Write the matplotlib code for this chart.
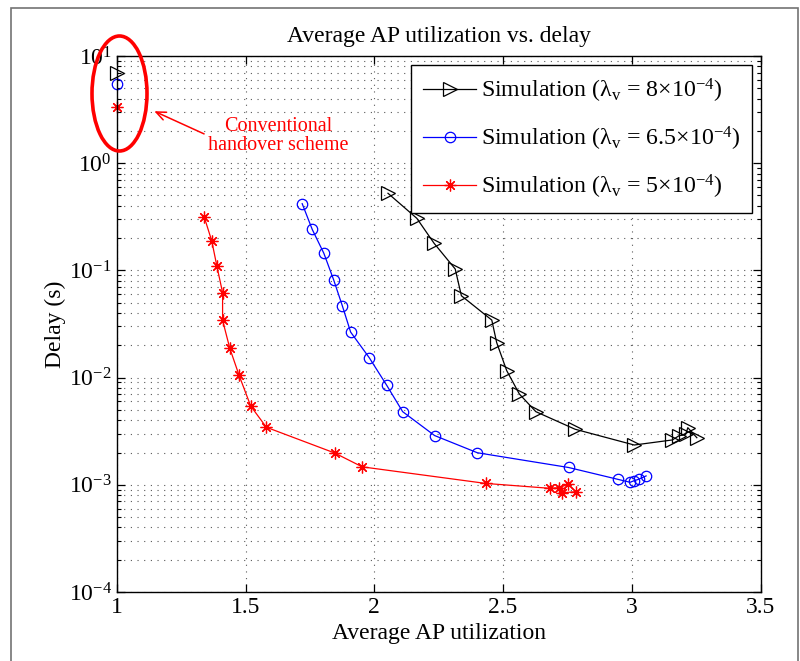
import matplotlib
matplotlib.use("Agg")
import matplotlib.pyplot as plt
from matplotlib.patches import Ellipse, Rectangle

# fonts: Times-like, as in the MATLAB original
plt.rcParams['font.family'] = ['Liberation Serif', 'DejaVu Serif']
plt.rcParams['mathtext.fontset'] = 'custom'
plt.rcParams['mathtext.rm'] = 'Liberation Serif'
plt.rcParams['mathtext.it'] = 'Liberation Serif:italic'
plt.rcParams['mathtext.bf'] = 'Liberation Serif:bold'

# data
util_8 = [2.053, 2.165, 2.232, 2.314, 2.338, 2.456, 2.475, 2.514, 2.563, 2.627,
          2.779, 3.009, 3.157, 3.183, 3.209, 3.217, 3.252]
delay_8 = [0.524, 0.306, 0.179, 0.103, 0.058, 0.0344, 0.0212, 0.0116, 0.00703, 0.00481,
           0.0033, 0.00235, 0.00262, 0.00287, 0.00296, 0.00341, 0.00275]

util_65 = [1.72, 1.759, 1.804, 1.842, 1.876, 1.908, 1.981, 2.048, 2.110, 2.234,
           2.400, 2.754, 2.945, 2.993, 3.008, 3.026, 3.055]
delay_65 = [0.419, 0.241, 0.1445, 0.0818, 0.0466, 0.0266, 0.01524, 0.00848, 0.00481, 0.00288,
            0.00199, 0.00145, 0.001125, 0.001055, 0.00109, 0.001125, 0.00121]

util_5 = [1.340, 1.369, 1.389, 1.411, 1.411, 1.439, 1.475, 1.520, 1.581, 1.846,
          1.953, 2.432, 2.682, 2.718, 2.751, 2.730, 2.782]
delay_5 = [0.313, 0.188, 0.109, 0.0619, 0.0342, 0.01875, 0.0105, 0.00543, 0.00344, 0.00198,
           0.00147, 0.00103, 0.000927, 0.00094, 0.00101, 0.000843, 0.000861]

# conventional handover scheme (utilization = 1)
conv_util = [1.0, 1.0, 1.0]
conv_delay = [6.9, 5.45, 3.36]

labels = ['Simulation (λ$_{\\rm v}$ = 8×10$^{-4}$)',
          'Simulation (λ$_{\\rm v}$ = 6.5×10$^{-4}$)',
          'Simulation (λ$_{\\rm v}$ = 5×10$^{-4}$)']

star = (8, 2, 0)

fig = plt.figure(figsize=(8, 6.61), dpi=100)
ax = fig.add_axes([0.1459, 0.1044, 0.805, 0.8109])

ax.plot(util_8, delay_8, color='k', lw=0.9, marker='>', ms=9.5, mfc='none', mew=0.9, label=labels[0])
ax.plot(util_65, delay_65, color='b', lw=0.9, marker='o', ms=7.5, mfc='none', mew=0.9, label=labels[1])
ax.plot(util_5, delay_5, color='r', lw=0.9, marker=star, ms=8.5, mew=0.9, label=labels[2])

ax.plot(conv_util[0], conv_delay[0], ls='none', color='k', marker='>', ms=9.5, mfc='none', mew=0.9, clip_on=False)
ax.plot(conv_util[1], conv_delay[1], ls='none', color='b', marker='o', ms=7.5, mfc='none', mew=0.9, clip_on=False)
ax.plot(conv_util[2], conv_delay[2], ls='none', color='r', marker=star, ms=8.5, mew=0.9, clip_on=False)

ax.set_yscale('log')
ax.set_xlim(1, 3.5)
ax.set_ylim(1e-4, 10)
ax.set_xticks([1, 1.5, 2, 2.5, 3, 3.5])
ax.set_xticklabels(['1', '1.5', '2', '2.5', '3', '3.5'])

ax.grid(True, which='major', axis='x', color='0.35', ls=(0, (1, 5)), lw=0.8)
ax.grid(True, which='both', axis='y', color='0.35', ls=(0, (1, 5)), lw=0.8)
ax.tick_params(which='both', direction='in', top=True, right=True, labelsize=17)
ax.tick_params(which='major', length=6, width=0.9)
ax.tick_params(which='minor', length=3, width=0.8)
ax.tick_params(axis='x', which='minor', bottom=False, top=False)
for s in ax.spines.values():
    s.set_linewidth(1.0)

ax.set_title('Average AP utilization vs. delay', fontsize=17, pad=10)
ax.set_xlabel('Average AP utilization', fontsize=17, labelpad=4)
ax.set_ylabel('Delay (s)', fontsize=17, labelpad=2)

leg = ax.legend(loc='upper right', bbox_to_anchor=(0.9865, 0.983), borderaxespad=0,
                fontsize=17.2, fancybox=False, edgecolor='k', framealpha=1,
                handlelength=2.2, handletextpad=0.2, labelspacing=0.82, borderpad=0.5)
leg.get_frame().set_linewidth(1.0)

# annotation: ellipse around the conventional points, arrow and text
ell = Ellipse((119.5 / 800, 1 - 93.5 / 661), 55 / 800, 115 / 661, transform=fig.transFigure,
              fill=False, edgecolor='r', lw=2.6, clip_on=False, zorder=5)
fig.patches.append(ell)
ax.annotate('', xy=(1.136, 3.13), xytext=(1.349, 1.83),
            arrowprops=dict(arrowstyle='->,head_length=0.7,head_width=0.3', color='r', lw=1.1))
ax.text(1.626, 1.81, 'Conventional\nhandover scheme', color='r', fontsize=14.5,
        ha='center', va='center', linespacing=1.0)

# gray frame around the figure
fig.patches.append(Rectangle((11 / 800, -0.02), 787 / 800, 1.02 - 7.5 / 661,
                             transform=fig.transFigure, fill=False, edgecolor='0.45', lw=1.2))

fig.savefig('out.png', dpi=100)
